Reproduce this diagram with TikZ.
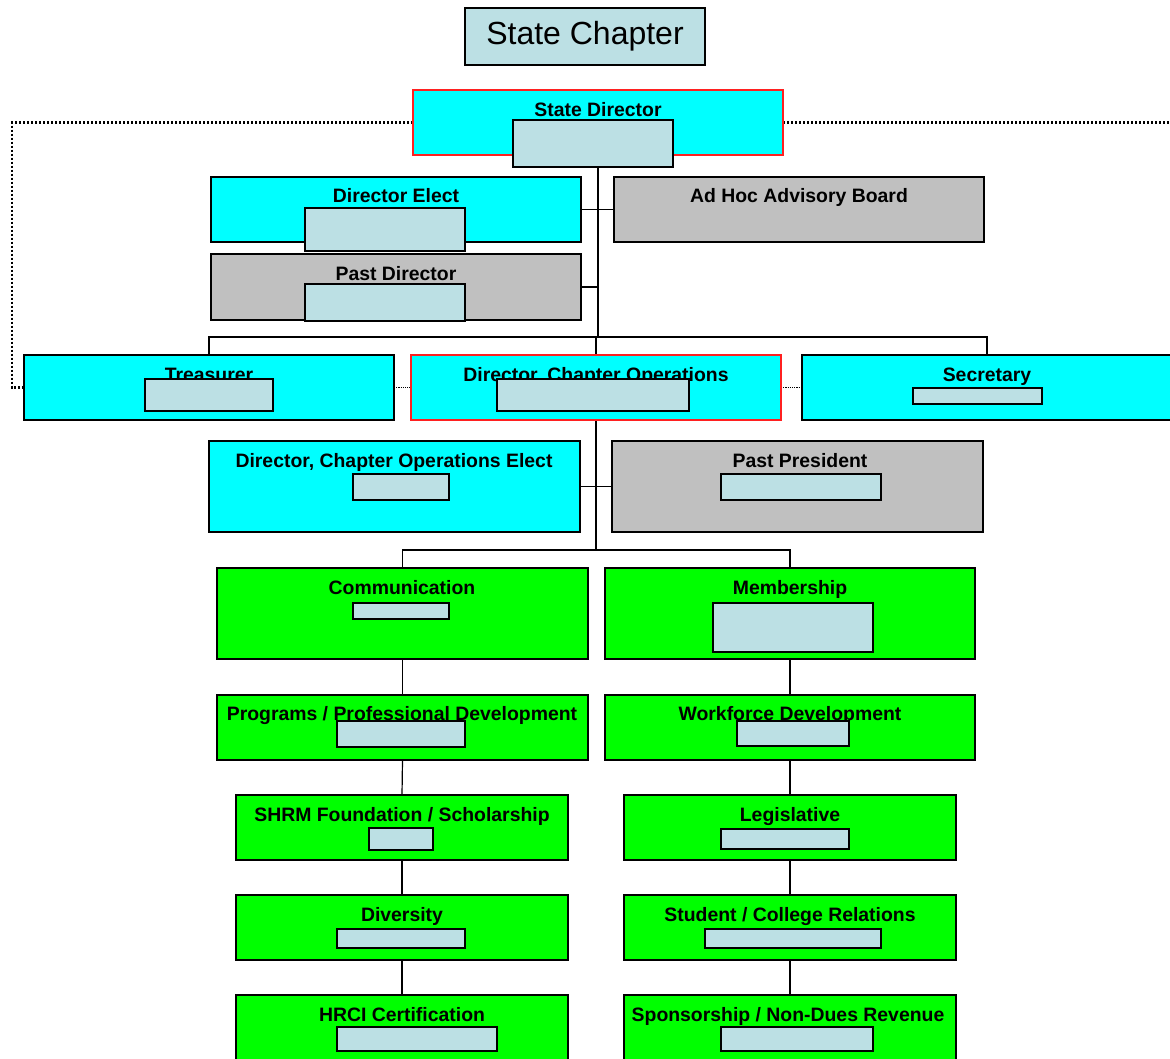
\documentclass[tikz,border=0pt]{standalone}
\usepackage{fontspec}
\setmainfont{Liberation Sans}
\usetikzlibrary{backgrounds}
\definecolor{cyanbox}{HTML}{00FFFF}
\definecolor{greybox}{HTML}{C0C0C0}
\definecolor{greenbox}{HTML}{00FF00}
\definecolor{lblue}{HTML}{BCE0E4}
\definecolor{redline}{HTML}{FF2020}
\tikzset{
  box/.style={rectangle, draw=black, line width=1.2pt, anchor=north west, inner sep=0pt, outer sep=0pt},
  cyanb/.style={box, fill=cyanbox},
  greyb/.style={box, fill=greybox},
  greenb/.style={box, fill=greenbox},
  redb/.style={box, fill=cyanbox, draw=redline},
  innerb/.style={rectangle, draw=black, line width=1.8pt, fill=lblue, anchor=north west, inner sep=0pt, outer sep=0pt},
  lbl/.style={font=\bfseries\fontsize{19.4}{22}\selectfont, inner sep=0pt, text height=13.9pt, text depth=0pt},
  conn/.style={draw=black, line width=1.2pt},
  bigdot/.style={draw=black, line width=2.6pt, dash pattern=on 2.4pt off 1.6pt},
  smalldot/.style={draw=black, line width=1.2pt, dash pattern=on 1.2pt off 1pt}
}
\begin{document}
\begin{tikzpicture}[x=1pt,y=-1pt]
\clip (0,0) rectangle (1170,1058);

% title
\node[box, fill=lblue, minimum width=240pt, minimum height=57pt] (title) at (465,8) {};
\node[font=\fontsize{32}{36}\selectfont, inner sep=0pt] (titlet) at (title.center) {State Chapter};

% level 1
\node[redb, minimum width=370pt, minimum height=65pt] (sd) at (413,90) {};
\node[lbl] (sdt) at (598,110) {State Director};
\node[innerb, minimum width=160pt, minimum height=47pt] (sdi) at (513,120) {};

\node[cyanb, minimum width=370pt, minimum height=65pt] (de) at (211,177) {};
\node[lbl] (det) at (396,196) {Director Elect};
\node[innerb, minimum width=160pt, minimum height=43pt] (dei) at (305,208) {};

\node[greyb, minimum width=370pt, minimum height=65pt] (ah) at (614,177) {};
\node[lbl] (aht) at (799,196) {Ad Hoc Advisory Board};

\node[greyb, minimum width=370pt, minimum height=66pt] (pd) at (211,254) {};
\node[lbl] (pdt) at (396,274) {Past Director};
\node[innerb, minimum width=160pt, minimum height=37pt] (pdi) at (305,284) {};

% level 2
\node[cyanb, minimum width=370pt, minimum height=65pt] (tr) at (24,355) {};
\node[lbl] (trt) at (209,375) {Treasurer};
\node[innerb, minimum width=128pt, minimum height=32pt] (tri) at (145,379) {};

\node[redb, minimum width=370pt, minimum height=65pt] (dco) at (411,355) {};
\node[lbl] (dcot) at (596,375) {Director, Chapter Operations};
\node[innerb, minimum width=192pt, minimum height=32pt] (dcoi) at (497,379) {};

\node[cyanb, minimum width=370pt, minimum height=65pt] (sec) at (802,355) {};
\node[lbl] (sect) at (987,375) {Secretary};
\node[innerb, minimum width=129pt, minimum height=16pt] (seci) at (913,388) {};

\node[cyanb, minimum width=371pt, minimum height=91pt] (dcoe) at (209,441) {};
\node[lbl] (dcoet) at (394,461) {Director, Chapter Operations Elect};
\node[innerb, minimum width=96pt, minimum height=26pt] (dcoei) at (353,474) {};

\node[greyb, minimum width=371pt, minimum height=91pt] (pp) at (612,441) {};
\node[lbl] (ppt) at (800,461) {Past President};
\node[innerb, minimum width=160pt, minimum height=26pt] (ppi) at (721,474) {};

% committees left
\node[greenb, minimum width=371pt, minimum height=91pt] (com) at (217,568) {};
\node[lbl] (comt) at (402,588) {Communication};
\node[innerb, minimum width=96pt, minimum height=16pt] (comi) at (353,603) {};

\node[greenb, minimum width=371pt, minimum height=65pt] (prog) at (217,695) {};
\node[lbl] (progt) at (402,714) {Programs / Professional Development};
\node[innerb, minimum width=128pt, minimum height=26pt] (progi) at (337,721) {};

\node[greenb, minimum width=332pt, minimum height=65pt] (shrm) at (236,795) {};
\node[lbl] (shrmt) at (402,815) {SHRM Foundation / Scholarship};
\node[innerb, minimum width=64pt, minimum height=22pt] (shrmi) at (369,828) {};

\node[greenb, minimum width=332pt, minimum height=65pt] (div) at (236,895) {};
\node[lbl] (divt) at (402,915) {Diversity};
\node[innerb, minimum width=128pt, minimum height=19pt] (divi) at (337,929) {};

\node[greenb, minimum width=332pt, minimum height=66pt] (hrci) at (236,995) {};
\node[lbl] (hrcit) at (402,1015) {HRCI Certification};
\node[innerb, minimum width=160pt, minimum height=24pt] (hrcii) at (337,1027) {};

% committees right
\node[greenb, minimum width=370pt, minimum height=91pt] (mem) at (605,568) {};
\node[lbl] (memt) at (790,588) {Membership};
\node[innerb, minimum width=160pt, minimum height=49pt] (memi) at (713,603) {};

\node[greenb, minimum width=370pt, minimum height=65pt] (wf) at (605,695) {};
\node[lbl] (wft) at (790,714) {Workforce Development};
\node[innerb, minimum width=112pt, minimum height=25pt] (wfi) at (737,721) {};

\node[greenb, minimum width=332pt, minimum height=65pt] (leg) at (624,795) {};
\node[lbl] (legt) at (790,815) {Legislative};
\node[innerb, minimum width=128pt, minimum height=20pt] (legi) at (721,829) {};

\node[greenb, minimum width=332pt, minimum height=65pt] (stu) at (624,895) {};
\node[lbl] (stut) at (790,915) {Student / College Relations};
\node[innerb, minimum width=176pt, minimum height=19pt] (stui) at (705,929) {};

\node[greenb, minimum width=332pt, minimum height=66pt] (spon) at (624,995) {};
\node[lbl] (spont) at (788,1015) {Sponsorship / Non-Dues Revenue};
\node[innerb, minimum width=152pt, minimum height=24pt] (sponi) at (721,1027) {};

% coordinates for buses and dotted line
\coordinate (busA) at (0,337);
\coordinate (busB) at (0,550);
\coordinate (lx) at (12,0);
\coordinate (rx) at (1170,0);

\begin{scope}[on background layer]
  \draw[conn] (sd.south) -- (sd.south |- busA);
  \draw[conn] (tr.north) -- (tr.north |- busA) -- (sec.north |- busA) -- (sec.north);
  \draw[conn] (dco.north) -- (dco.north |- busA);
  \draw[conn] (de.east) -- (ah.west);
  \draw[conn] (pd.east) -- (pd.east -| sd.south);
  \draw[conn] (dco.south) -- (dco.south |- busB);
  \draw[conn] (dcoe.east) -- (pp.west);
  \draw[conn] (com.north) -- (com.north |- busB) -- (mem.north |- busB) -- (mem.north);
  \draw[conn] (com.south) -- (prog.north);
  \draw[conn] (prog.south) -- (shrm.north);
  \draw[conn] (shrm.south) -- (div.north);
  \draw[conn] (div.south) -- (hrci.north);
  \draw[conn] (mem.south) -- (wf.north);
  \draw[conn] (wf.south) -- (leg.north);
  \draw[conn] (leg.south) -- (stu.north);
  \draw[conn] (stu.south) -- (spon.north);
  \draw[bigdot] (sd.west) -- (sd.west -| lx) -- (tr.west -| lx) -- (tr.west);
  \draw[bigdot] (sd.east) -- (sd.east -| rx);
  \draw[smalldot] (tr.east) -- (dco.west);
  \draw[smalldot] (dco.east) -- (sec.west);
\end{scope}
\end{tikzpicture}
\end{document}
